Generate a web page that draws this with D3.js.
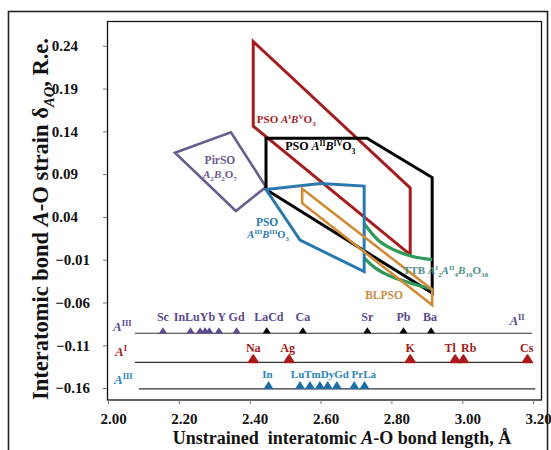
<!DOCTYPE html>
<html><head><meta charset="utf-8">
<script src="https://cdn.jsdelivr.net/npm/d3@7"></script>
<style>
body{margin:0;background:#fff;}
svg{display:block;font-family:"Liberation Serif","Times New Roman",serif;font-weight:bold;}
</style></head><body>
<svg id="chart" width="551" height="450"></svg>
<script>
// axis ticks
const xTicks = [2.0, 2.2, 2.4, 2.6, 2.8, 3.0, 3.2];
const yTicks = [0.24, 0.19, 0.14, 0.09, 0.04, -0.01, -0.06, -0.11, -0.16];

// structure-family regions as [bond length (Å), strain] vertices
const psoA1B5 = [[2.41, 0.245], [2.853, 0.074], [2.853, -0.004], [2.41, 0.146]];
const psoA2B4 = [[2.446, 0.132], [2.731, 0.132], [2.915, 0.086], [2.915, -0.049], [2.446, 0.072]];
const psoA3B3 = [[2.446, 0.072], [2.6, 0.079], [2.723, 0.076], [2.723, -0.024], [2.542, 0.013]];
const pyrochlore = [[2.189, 0.115], [2.347, 0.139], [2.446, 0.075], [2.361, 0.047]];
const blpso = [[2.548, 0.073], [2.915, -0.045], [2.915, -0.063], [2.548, 0.056]];
const ttbUpper = [[2.723, 0.032], [2.762, 0.013], [2.81, 0.001], [2.858, -0.006], [2.915, -0.010]];
const ttbLower = [[2.723, -0.008], [2.754, -0.0196], [2.788, -0.0276], [2.853, -0.0372], [2.915, -0.0444]];

// cation scales: unstrained A-O bond lengths
const rowLevels = [-0.096, -0.130, -0.161];
const rowStart = [2.076, 2.076, 2.087];
const rowEnd = [3.197, 3.2, 3.206];

const a3TopNames = ["Sc", "In", "Lu", "Tm", "Yb", "Y", "Gd"];
const a3TopLen = [2.155, 2.233, 2.26, 2.274, 2.286, 2.313, 2.363];
const a2Names = ["LaCd", "Ca", "Sr", "Pb", "Ba"];
const a2Len = [2.448, 2.55, 2.732, 2.834, 2.912];
const a1Names = ["Na", "Ag", "K", "Tl", "Rb", "Cs"];
const a1Len = [2.41, 2.511, 2.853, 2.98, 3.003, 3.184];
const a3LowNames = ["In", "Lu", "Tm", "Dy", "Ho", "Gd", "Pr", "La"];
const a3LowLen = [2.453, 2.542, 2.570, 2.598, 2.62, 2.646, 2.695, 2.724];

// element captions above each scale
const topCaptions = ["Sc", "InLuYb", "Y", "Gd", "LaCd", "Ca", "Sr", "Pb", "Ba"];
const topCaptionAt = [2.155, 2.244, 2.321, 2.363, 2.454, 2.55, 2.732, 2.834, 2.909];
const midCaptions = ["Na", "Ag", "K", "Tl", "Rb", "Cs"];
const midCaptionAt = [2.41, 2.507, 2.853, 2.966, 3.018, 3.182];
const lowCaptions = ["In", "LuTmDyGd", "PrLa"];
const lowCaptionAt = [2.450, 2.598, 2.722];

const svg = d3.select("#chart");
const x = d3.scaleLinear().domain([2.0, 3.225]).range([108, 542]);
const y = d3.scaleLinear().domain([-0.174, 0.269]).range([400, 21]);

const C = {
  red: "#a51d1f", black: "#000", blue: "#2a78ad", purple: "#6b5c8f",
  orange: "#d18b34", green: "#2f9a57", triPurple: "#5e4a93", triRed: "#ad1a1a",
  triBlue: "#1f6da6", txtPurple: "#5a4a8c", txtRed: "#a01c1c", txtBlue: "#2a86b8",
  ttbText: "#4a8f86", blText: "#c98a45"
};

// outer frame
svg.append("rect").attr("x", 8.5).attr("y", 11.5).attr("width", 539).attr("height", 460)
  .attr("fill", "none").attr("stroke", "#222").attr("stroke-width", 1.6);

// plot frame
svg.append("rect").attr("x", 107.5).attr("y", 21.5).attr("width", 434).attr("height", 378.5)
  .attr("fill", "none").attr("stroke", "#111").attr("stroke-width", 1.3);

// axes
const yAxis = svg.append("g").attr("transform", "translate(107,0)")
  .call(d3.axisLeft(y).tickValues(yTicks).tickFormat(d3.format(".2f")).tickSize(4).tickPadding(25));
const xAxis = svg.append("g").attr("transform", "translate(0,400)")
  .call(d3.axisBottom(x).tickValues(xTicks).tickFormat(d3.format(".2f")).tickSize(4).tickPadding(9));
[yAxis, xAxis].forEach(g => {
  g.select(".domain").remove();
  g.selectAll(".tick line").attr("stroke", "#777");
  g.selectAll(".tick text").attr("font-family", "Liberation Serif").attr("font-weight", "bold")
    .attr("font-size", 15).attr("fill", "#111");
});
xAxis.selectAll(".tick text").attr("dx", 5);
// negative labels sit a little further right than the positive ones
yAxis.selectAll(".tick text").attr("dx", d => d < 0 ? 12 : 0);

// rich text helper: parts = [text, kind] with kind among "", "i", "sup", "sub", "isup", "isub"
function rich(sel, parts, size) {
  let shift = 0;
  parts.forEach(([t, k]) => {
    const ts = sel.append("tspan").text(t);
    let target = 0;
    if (k.includes("sup")) target = -size * 0.38;
    else if (k.includes("sub")) target = size * 0.28;
    ts.attr("dy", target - shift);
    shift = target;
    if (k.includes("sup") || k.includes("sub")) ts.attr("font-size", size * 0.65);
    if (k.startsWith("i")) ts.attr("font-style", "italic");
  });
}

// axis titles
const yt = svg.append("text").attr("transform", "translate(48,219) rotate(-90)")
  .attr("text-anchor", "middle").attr("font-size", 22.5).attr("fill", "#111");
rich(yt, [["Interatomic bond ", ""], ["A", "i"], ["-O strain δ", ""], ["AO", "isub"], [", R.e.", ""]], 22.5);
const xt = svg.append("text").attr("x", 342).attr("y", 444).attr("text-anchor", "middle")
  .attr("font-size", 18).attr("fill", "#111").attr("xml:space", "preserve");
rich(xt, [["Unstrained  interatomic ", ""], ["A", "i"], ["-O bond length, Å", ""]], 18);

// regions
const line = d3.line().x(d => x(d[0])).y(d => y(d[1]));
const poly = (pts, color, w) => svg.append("path").attr("d", line(pts) + "Z")
  .attr("fill", "none").attr("stroke", color).attr("stroke-width", w).attr("stroke-linejoin", "miter");

poly(pyrochlore, C.purple, 2.6);
poly(psoA1B5, C.red, 3);
poly(psoA2B4, C.black, 3);
const curve = d3.line().x(d => x(d[0])).y(d => y(d[1])).curve(d3.curveMonotoneX);
[ttbUpper, ttbLower].forEach(c => svg.append("path").attr("d", curve(c))
  .attr("fill", "none").attr("stroke", C.green).attr("stroke-width", 3.2));
poly(psoA3B3, C.blue, 3);
poly(blpso, C.orange, 2.6);

// region captions
function caption(px, py, anchor, color, size, parts) {
  const t = svg.append("text").attr("x", x(px)).attr("y", y(py)).attr("text-anchor", anchor)
    .attr("font-size", size).attr("fill", color);
  rich(t, parts, size);
}
caption(2.42, 0.150, "start", C.red, 11, [["PSO ", ""], ["A", "i"], ["I", "sup"], ["B", "i"], ["V", "sup"], ["O", ""], ["3", "sub"]]);
caption(2.5, 0.118, "start", C.black, 12, [["PSO ", ""], ["A", "i"], ["II", "sup"], ["B", "i"], ["IV", "sup"], ["O", ""], ["3", "sub"]]);
caption(2.316, 0.102, "middle", C.purple, 11.5, [["PirSO", ""]]);
caption(2.316, 0.0856, "middle", C.purple, 11, [["A", "i"], ["2", "sub"], ["B", "i"], ["2", "sub"], ["O", ""], ["7", "sub"]]);
caption(2.449, 0.0295, "middle", C.blue, 11.5, [["PSO", ""]]);
caption(2.452, 0.0154, "middle", C.blue, 10.5, [["A", "i"], ["III", "sup"], ["B", "i"], ["III", "sup"], ["O", ""], ["3", "sub"]]);
caption(2.833, -0.0267, "start", C.ttbText, 11, [["TTB ", ""], ["A", "i"], ["I", "sup"], ["2", "sub"], ["A", "i"], ["II", "sup"], ["4", "sub"], ["B", "i"], ["10", "sub"], ["O", ""], ["30", "sub"]]);
caption(2.779, -0.056, "middle", C.blText, 11.5, [["BLPSO", ""]]);

// cation scales
rowLevels.forEach((lv, i) => {
  svg.append("line").attr("x1", x(rowStart[i])).attr("x2", x(rowEnd[i]))
    .attr("y1", y(lv)).attr("y2", y(lv)).attr("stroke", "#333").attr("stroke-width", 1.1);
});
function triangles(vals, level, color, w, h, rounded) {
  svg.append("g").selectAll("path").data(vals).join("path")
    .attr("d", v => {
      const cx = x(v), by = y(level);
      return `M${cx - w / 2},${by}L${cx},${by - h}L${cx + w / 2},${by}Z`;
    })
    .attr("fill", color).attr("stroke", rounded ? color : "none")
    .attr("stroke-width", rounded ? 2 : 0).attr("stroke-linejoin", "round");
}
triangles(a3TopLen, rowLevels[0], C.triPurple, 8, 6, false);
triangles(a2Len, rowLevels[0], C.black, 8, 6, false);
triangles(a1Len, rowLevels[1], C.triRed, 9, 7, true);
triangles(a3LowLen, rowLevels[2], C.triBlue, 10, 8, false);

function captions(names, at, level, off, color, size) {
  svg.append("g").selectAll("text").data(names).join("text")
    .attr("x", (d, i) => x(at[i])).attr("y", y(level) - off).attr("text-anchor", "middle")
    .attr("font-size", size).attr("fill", color).text(d => d);
}
captions(topCaptions, topCaptionAt, rowLevels[0], 12, C.txtPurple, 12);
captions(midCaptions, midCaptionAt, rowLevels[1], 10, C.txtRed, 12);
captions(lowCaptions, lowCaptionAt, rowLevels[2], 11, C.txtBlue, 11);

// scale labels
function rowLabel(px, py, color, parts) {
  const t = svg.append("text").attr("x", px).attr("y", py).attr("font-size", 13).attr("fill", color);
  rich(t, parts, 13);
}
rowLabel(113, y(rowLevels[0]) - 2, C.txtPurple, [["A", "i"], ["III", "sup"]]);
rowLabel(115, y(rowLevels[1]) - 6, C.txtRed, [["A", "i"], ["I", "sup"]]);
rowLabel(114, y(rowLevels[2]) - 5, C.txtBlue, [["A", "i"], ["III", "sup"]]);
rowLabel(x(3.133), y(rowLevels[0]) - 8, C.txtPurple, [["A", "i"], ["II", "sup"]]);
</script>
</body></html>
